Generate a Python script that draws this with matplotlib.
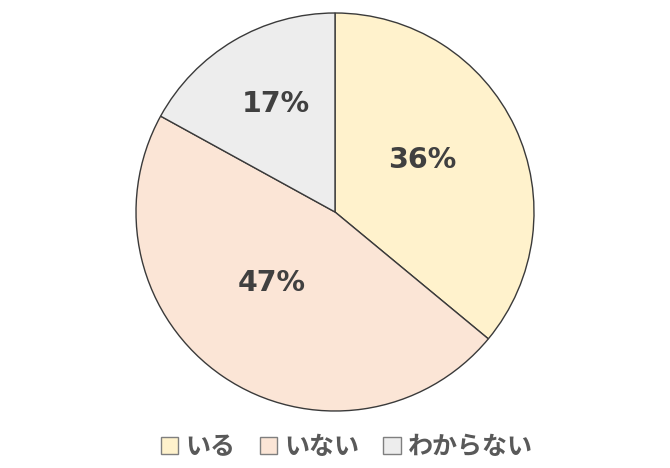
import matplotlib
matplotlib.use("Agg")
import matplotlib.pyplot as plt
import matplotlib.patches as mpatches
import numpy as np

plt.rcParams['font.family'] = ['Noto Sans CJK JP', 'DejaVu Sans']

categories = ["いる", "いない", "わからない"]
values = [36, 47, 17]
colors = ["#FFF2CC", "#FBE5D6", "#EDEDED"]
label_dist = [0.51, 0.477, 0.62]
label_shift = [5.5, -7.4, -1.8]  # degrees offset from wedge center (best-fit placement)

W, H = 670, 468
fig = plt.figure(figsize=(W / 100, H / 100), dpi=100)
cx, cy, r = 335, 212, 199
ax = fig.add_axes([(cx - r) / W, (H - cy - r) / H, 2 * r / W, 2 * r / H])
wedges, _ = ax.pie(values, colors=colors, startangle=90, counterclock=False,
                   wedgeprops=dict(edgecolor="#3a3a3a", linewidth=1.0))
ax.set_xlim(-1, 1)
ax.set_ylim(-1, 1)
ax.set_aspect('equal')
ax.axis('off')

for w, v, d, s in zip(wedges, values, label_dist, label_shift):
    ang = np.deg2rad((w.theta1 + w.theta2) / 2 + s)
    ax.text(d * np.cos(ang), d * np.sin(ang), f"{v}%", ha='center', va='center',
            fontsize=20.5, fontweight='bold', color='#404040', family=['DejaVu Sans'])

handles = [mpatches.Patch(facecolor=c, edgecolor='#7f7f7f', linewidth=1.0, label=l)
           for c, l in zip(colors, categories)]
fig.legend(handles=handles, loc='center', bbox_to_anchor=(347 / W, 1 - 447 / H),
           ncol=3, frameon=False, handlelength=0.7, handleheight=0.7,
           handletextpad=0.3, columnspacing=0.95,
           prop=dict(size=18, weight='bold'), labelcolor='#595959')

fig.savefig("out.png", dpi=100)
